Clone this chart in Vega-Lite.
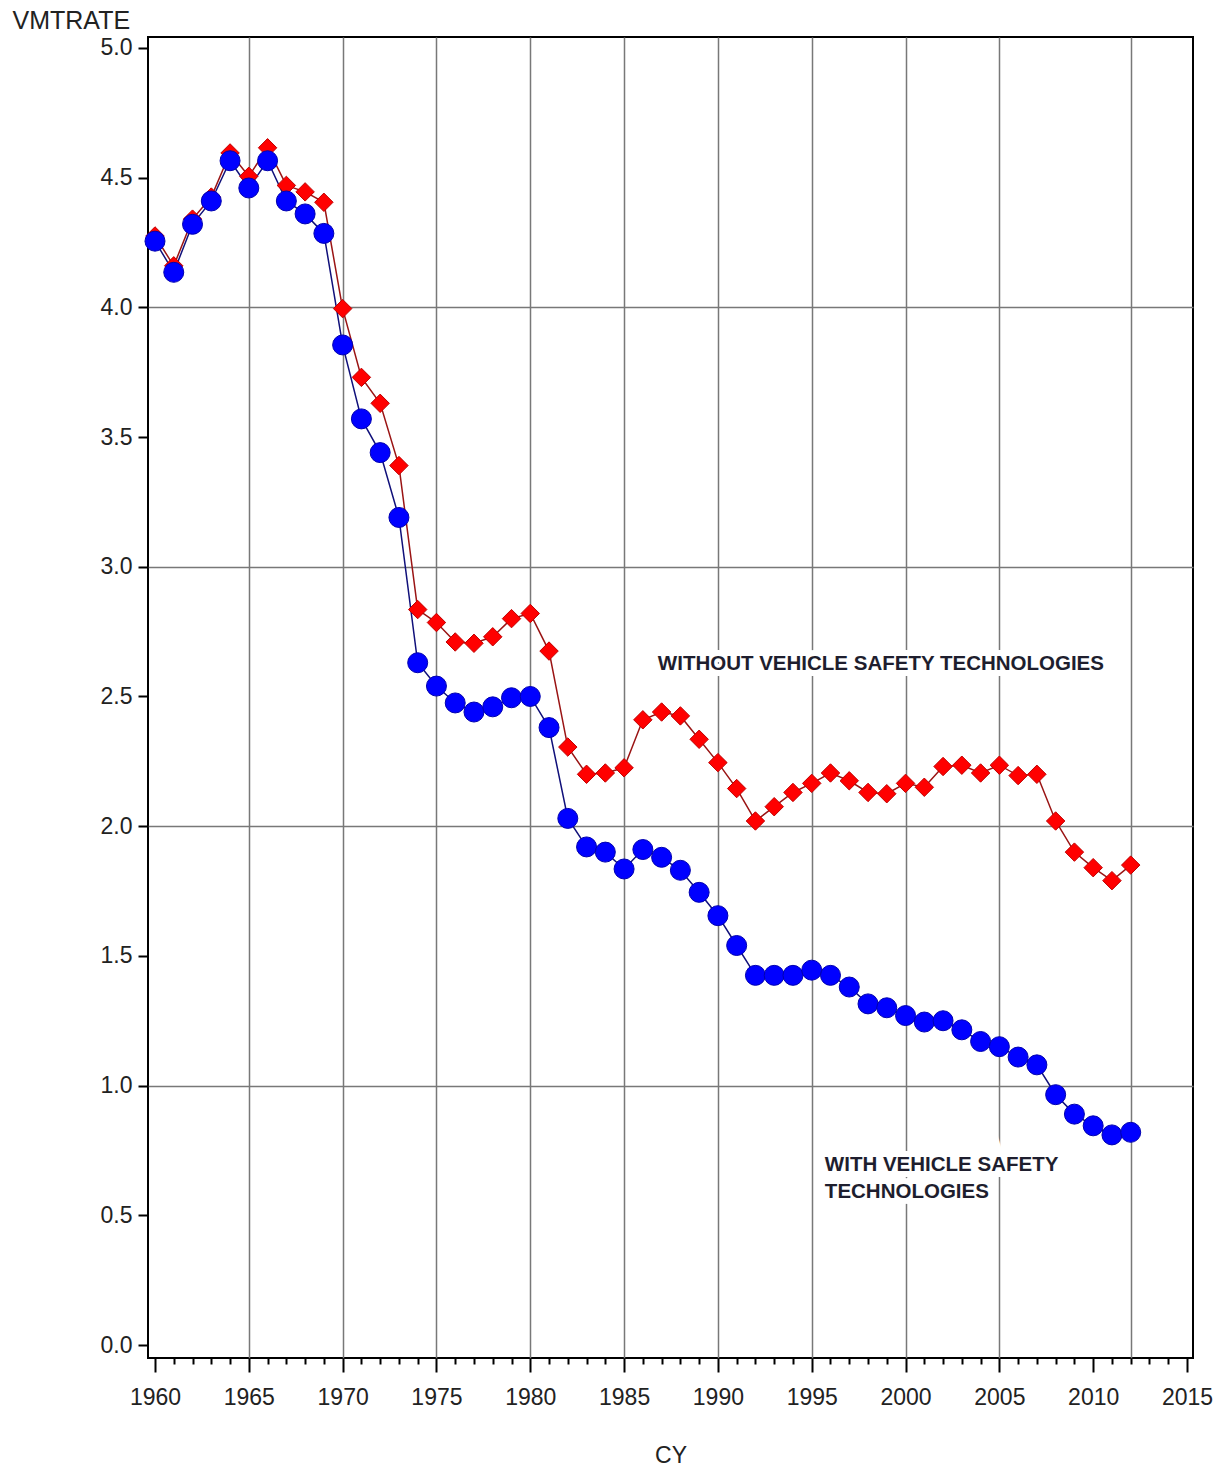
{
  "$schema": "https://vega.github.io/schema/vega-lite/v6.json",
  "width": 1045,
  "height": 1321,
  "autosize": "none",
  "padding": {"left": 148, "top": 37, "right": 29, "bottom": 112},
  "background": "white",
  "config": {
    "view": {"stroke": "black", "strokeWidth": 2},
    "font": "Liberation Sans",
    "axis": {"labelFont": "Liberation Sans", "titleFont": "Liberation Sans"}
  },
  "datasets": {
    "pts": [
      {"CY": 1960, "VMTRATE": 4.275, "series": "WITHOUT"},
      {"CY": 1961, "VMTRATE": 4.16, "series": "WITHOUT"},
      {"CY": 1962, "VMTRATE": 4.34, "series": "WITHOUT"},
      {"CY": 1963, "VMTRATE": 4.425, "series": "WITHOUT"},
      {"CY": 1964, "VMTRATE": 4.595, "series": "WITHOUT"},
      {"CY": 1965, "VMTRATE": 4.505, "series": "WITHOUT"},
      {"CY": 1966, "VMTRATE": 4.615, "series": "WITHOUT"},
      {"CY": 1967, "VMTRATE": 4.47, "series": "WITHOUT"},
      {"CY": 1968, "VMTRATE": 4.445, "series": "WITHOUT"},
      {"CY": 1969, "VMTRATE": 4.405, "series": "WITHOUT"},
      {"CY": 1970, "VMTRATE": 3.995, "series": "WITHOUT"},
      {"CY": 1971, "VMTRATE": 3.73, "series": "WITHOUT"},
      {"CY": 1972, "VMTRATE": 3.63, "series": "WITHOUT"},
      {"CY": 1973, "VMTRATE": 3.39, "series": "WITHOUT"},
      {"CY": 1974, "VMTRATE": 2.835, "series": "WITHOUT"},
      {"CY": 1975, "VMTRATE": 2.785, "series": "WITHOUT"},
      {"CY": 1976, "VMTRATE": 2.71, "series": "WITHOUT"},
      {"CY": 1977, "VMTRATE": 2.705, "series": "WITHOUT"},
      {"CY": 1978, "VMTRATE": 2.73, "series": "WITHOUT"},
      {"CY": 1979, "VMTRATE": 2.8, "series": "WITHOUT"},
      {"CY": 1980, "VMTRATE": 2.82, "series": "WITHOUT"},
      {"CY": 1981, "VMTRATE": 2.675, "series": "WITHOUT"},
      {"CY": 1982, "VMTRATE": 2.305, "series": "WITHOUT"},
      {"CY": 1983, "VMTRATE": 2.2, "series": "WITHOUT"},
      {"CY": 1984, "VMTRATE": 2.205, "series": "WITHOUT"},
      {"CY": 1985, "VMTRATE": 2.225, "series": "WITHOUT"},
      {"CY": 1986, "VMTRATE": 2.41, "series": "WITHOUT"},
      {"CY": 1987, "VMTRATE": 2.44, "series": "WITHOUT"},
      {"CY": 1988, "VMTRATE": 2.425, "series": "WITHOUT"},
      {"CY": 1989, "VMTRATE": 2.335, "series": "WITHOUT"},
      {"CY": 1990, "VMTRATE": 2.245, "series": "WITHOUT"},
      {"CY": 1991, "VMTRATE": 2.145, "series": "WITHOUT"},
      {"CY": 1992, "VMTRATE": 2.02, "series": "WITHOUT"},
      {"CY": 1993, "VMTRATE": 2.075, "series": "WITHOUT"},
      {"CY": 1994, "VMTRATE": 2.13, "series": "WITHOUT"},
      {"CY": 1995, "VMTRATE": 2.165, "series": "WITHOUT"},
      {"CY": 1996, "VMTRATE": 2.205, "series": "WITHOUT"},
      {"CY": 1997, "VMTRATE": 2.175, "series": "WITHOUT"},
      {"CY": 1998, "VMTRATE": 2.13, "series": "WITHOUT"},
      {"CY": 1999, "VMTRATE": 2.125, "series": "WITHOUT"},
      {"CY": 2000, "VMTRATE": 2.165, "series": "WITHOUT"},
      {"CY": 2001, "VMTRATE": 2.15, "series": "WITHOUT"},
      {"CY": 2002, "VMTRATE": 2.23, "series": "WITHOUT"},
      {"CY": 2003, "VMTRATE": 2.235, "series": "WITHOUT"},
      {"CY": 2004, "VMTRATE": 2.205, "series": "WITHOUT"},
      {"CY": 2005, "VMTRATE": 2.235, "series": "WITHOUT"},
      {"CY": 2006, "VMTRATE": 2.195, "series": "WITHOUT"},
      {"CY": 2007, "VMTRATE": 2.2, "series": "WITHOUT"},
      {"CY": 2008, "VMTRATE": 2.02, "series": "WITHOUT"},
      {"CY": 2009, "VMTRATE": 1.9, "series": "WITHOUT"},
      {"CY": 2010, "VMTRATE": 1.84, "series": "WITHOUT"},
      {"CY": 2011, "VMTRATE": 1.79, "series": "WITHOUT"},
      {"CY": 2012, "VMTRATE": 1.85, "series": "WITHOUT"},
      {"CY": 1960, "VMTRATE": 4.255, "series": "WITH"},
      {"CY": 1961, "VMTRATE": 4.135, "series": "WITH"},
      {"CY": 1962, "VMTRATE": 4.32, "series": "WITH"},
      {"CY": 1963, "VMTRATE": 4.41, "series": "WITH"},
      {"CY": 1964, "VMTRATE": 4.565, "series": "WITH"},
      {"CY": 1965, "VMTRATE": 4.46, "series": "WITH"},
      {"CY": 1966, "VMTRATE": 4.565, "series": "WITH"},
      {"CY": 1967, "VMTRATE": 4.41, "series": "WITH"},
      {"CY": 1968, "VMTRATE": 4.36, "series": "WITH"},
      {"CY": 1969, "VMTRATE": 4.285, "series": "WITH"},
      {"CY": 1970, "VMTRATE": 3.855, "series": "WITH"},
      {"CY": 1971, "VMTRATE": 3.57, "series": "WITH"},
      {"CY": 1972, "VMTRATE": 3.44, "series": "WITH"},
      {"CY": 1973, "VMTRATE": 3.19, "series": "WITH"},
      {"CY": 1974, "VMTRATE": 2.63, "series": "WITH"},
      {"CY": 1975, "VMTRATE": 2.54, "series": "WITH"},
      {"CY": 1976, "VMTRATE": 2.475, "series": "WITH"},
      {"CY": 1977, "VMTRATE": 2.44, "series": "WITH"},
      {"CY": 1978, "VMTRATE": 2.46, "series": "WITH"},
      {"CY": 1979, "VMTRATE": 2.495, "series": "WITH"},
      {"CY": 1980, "VMTRATE": 2.5, "series": "WITH"},
      {"CY": 1981, "VMTRATE": 2.38, "series": "WITH"},
      {"CY": 1982, "VMTRATE": 2.03, "series": "WITH"},
      {"CY": 1983, "VMTRATE": 1.92, "series": "WITH"},
      {"CY": 1984, "VMTRATE": 1.9, "series": "WITH"},
      {"CY": 1985, "VMTRATE": 1.835, "series": "WITH"},
      {"CY": 1986, "VMTRATE": 1.91, "series": "WITH"},
      {"CY": 1987, "VMTRATE": 1.88, "series": "WITH"},
      {"CY": 1988, "VMTRATE": 1.83, "series": "WITH"},
      {"CY": 1989, "VMTRATE": 1.745, "series": "WITH"},
      {"CY": 1990, "VMTRATE": 1.655, "series": "WITH"},
      {"CY": 1991, "VMTRATE": 1.54, "series": "WITH"},
      {"CY": 1992, "VMTRATE": 1.425, "series": "WITH"},
      {"CY": 1993, "VMTRATE": 1.425, "series": "WITH"},
      {"CY": 1994, "VMTRATE": 1.425, "series": "WITH"},
      {"CY": 1995, "VMTRATE": 1.445, "series": "WITH"},
      {"CY": 1996, "VMTRATE": 1.425, "series": "WITH"},
      {"CY": 1997, "VMTRATE": 1.38, "series": "WITH"},
      {"CY": 1998, "VMTRATE": 1.315, "series": "WITH"},
      {"CY": 1999, "VMTRATE": 1.3, "series": "WITH"},
      {"CY": 2000, "VMTRATE": 1.27, "series": "WITH"},
      {"CY": 2001, "VMTRATE": 1.245, "series": "WITH"},
      {"CY": 2002, "VMTRATE": 1.25, "series": "WITH"},
      {"CY": 2003, "VMTRATE": 1.215, "series": "WITH"},
      {"CY": 2004, "VMTRATE": 1.17, "series": "WITH"},
      {"CY": 2005, "VMTRATE": 1.15, "series": "WITH"},
      {"CY": 2006, "VMTRATE": 1.11, "series": "WITH"},
      {"CY": 2007, "VMTRATE": 1.08, "series": "WITH"},
      {"CY": 2008, "VMTRATE": 0.965, "series": "WITH"},
      {"CY": 2009, "VMTRATE": 0.89, "series": "WITH"},
      {"CY": 2010, "VMTRATE": 0.845, "series": "WITH"},
      {"CY": 2011, "VMTRATE": 0.81, "series": "WITH"},
      {"CY": 2012, "VMTRATE": 0.82, "series": "WITH"}
    ],
    "notes": [
      {"CY": 1986.8, "VMTRATE": 2.625, "label": "WITHOUT VEHICLE SAFETY TECHNOLOGIES"},
      {"CY": 1995.7, "VMTRATE": 0.694, "label": "WITH VEHICLE SAFETY"},
      {"CY": 1995.7, "VMTRATE": 0.59, "label": "TECHNOLOGIES"}
    ]
  },
  "data": {"name": "pts"},
  "encoding": {
    "x": {
      "field": "CY",
      "type": "quantitative",
      "scale": {"domain": [1959.627, 2015.32], "nice": false, "zero": false},
      "axis": {
        "values": [1960,1961,1962,1963,1964,1965,1966,1967,1968,1969,1970,1971,1972,1973,1974,1975,1976,1977,1978,1979,1980,1981,1982,1983,1984,1985,1986,1987,1988,1989,1990,1991,1992,1993,1994,1995,1996,1997,1998,1999,2000,2001,2002,2003,2004,2005,2006,2007,2008,2009,2010,2011,2012,2013,2014,2015],
        "format": "d",
        "labelExpr": "datum.value % 5 === 0 ? datum.label : ''",
        "labelOverlap": false,
        "labelFlush": false,
        "labelFontSize": 23,
        "labelColor": "#222222",
        "labelPadding": 14,
        "tickColor": "black",
        "tickWidth": 2,
        "tickSize": {"condition": {"test": "datum.value % 5 === 0", "value": 14}, "value": 6},
        "domain": false,
        "grid": true,
        "gridColor": "#787878",
        "gridWidth": 1.5,
        "gridOpacity": {"condition": {"test": "indexof([1965,1970,1975,1980,1985,1990,1995,2000,2005,2012], datum.value) >= 0", "value": 1}, "value": 0},
        "title": "CY",
        "titleFontSize": 23,
        "titleFontWeight": "normal",
        "titleColor": "#222222",
        "titlePadding": 35
      }
    },
    "y": {
      "field": "VMTRATE",
      "type": "quantitative",
      "scale": {"domain": [-0.05, 5.042], "nice": false, "zero": false},
      "axis": {
        "values": [0, 0.5, 1, 1.5, 2, 2.5, 3, 3.5, 4, 4.5, 5],
        "format": ".1f",
        "labelFontSize": 23,
        "labelColor": "#222222",
        "labelPadding": 6,
        "tickColor": "black",
        "tickWidth": 2,
        "tickSize": 10,
        "domain": false,
        "grid": true,
        "gridColor": "#787878",
        "gridWidth": 1.5,
        "gridOpacity": {"condition": {"test": "datum.value % 1 === 0 && datum.value > 0 && datum.value < 5", "value": 1}, "value": 0},
        "title": "VMTRATE",
        "titleAngle": 0,
        "titleAlign": "left",
        "titleBaseline": "alphabetic",
        "titleX": -136,
        "titleY": -9,
        "titleFontSize": 25,
        "titleFontWeight": "normal",
        "titleColor": "#222222"
      }
    }
  },
  "layer": [
    {
      "transform": [{"filter": "datum.series === 'WITHOUT'"}],
      "mark": {"type": "line", "stroke": "#9a1414", "strokeWidth": 1.5}
    },
    {
      "transform": [{"filter": "datum.series === 'WITH'"}],
      "mark": {"type": "line", "stroke": "#10107a", "strokeWidth": 1.5}
    },
    {
      "transform": [{"filter": "datum.series === 'WITHOUT'"}],
      "mark": {"type": "point", "shape": "diamond", "filled": true, "fill": "#ff0000", "stroke": "#c00000", "strokeWidth": 1, "size": 340, "opacity": 1}
    },
    {
      "transform": [{"filter": "datum.series === 'WITH'"}],
      "mark": {"type": "point", "shape": "circle", "filled": true, "fill": "#0000ff", "stroke": "#0000b0", "strokeWidth": 1, "size": 400, "opacity": 1}
    },
    {
      "data": {"name": "notes"},
      "mark": {"type": "text", "align": "left", "baseline": "middle", "font": "Liberation Sans", "fontSize": 20.5, "fontWeight": "bold", "fill": "white", "stroke": "white", "strokeWidth": 12},
      "encoding": {"text": {"field": "label"}}
    },
    {
      "data": {"name": "notes"},
      "mark": {"type": "text", "align": "left", "baseline": "middle", "font": "Liberation Sans", "fontSize": 20.5, "fontWeight": "bold", "color": "#1e1e2e"},
      "encoding": {"text": {"field": "label"}}
    }
  ]
}
